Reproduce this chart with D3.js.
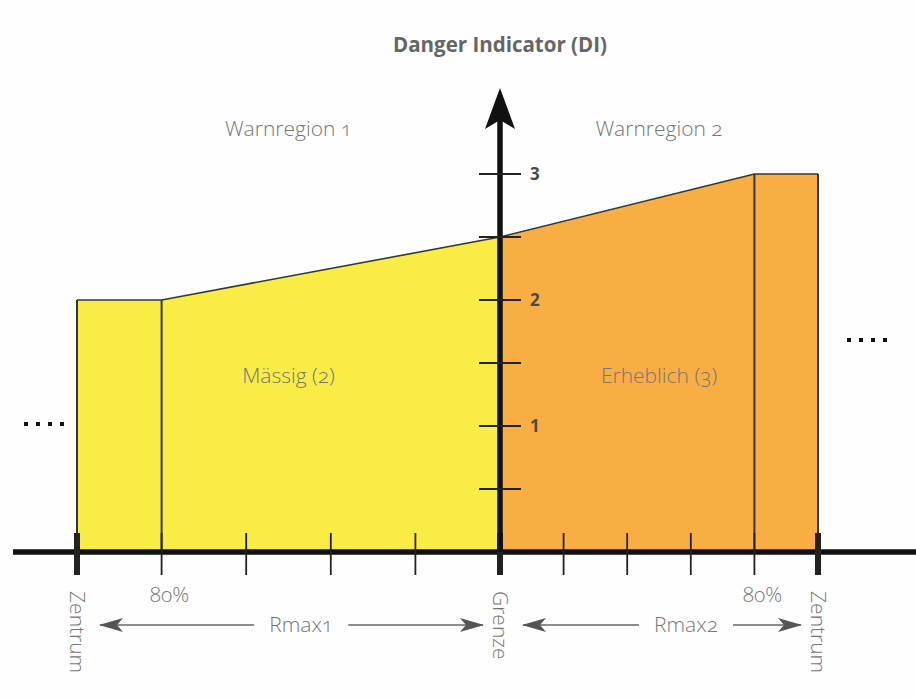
<!DOCTYPE html>
<html>
<head>
	<meta charset="utf-8">
	<title>Danger Indicator</title>
	<style>
		body { margin: 0; background: #fff; }
		svg text { font-family: "Open Sans", "DejaVu Sans", sans-serif; }
		.light { font-weight: 300; fill: #767676; font-feature-settings: "onum" 1; }
	</style>
</head>
<body>
<div id="chart"></div>
<script src="https://d3js.org/d3.v7.min.js"></script>
<script>

	// position: -1 = Zentrum 1, 0 = Grenze, 1 = Zentrum 2
	var region1 = [
		{pos: -1, di: 2},
		{pos: -0.8, di: 2},
		{pos: 0, di: 2.5}
	];
	var region2 = [
		{pos: 0, di: 2.5},
		{pos: 0.8, di: 3},
		{pos: 1, di: 3}
	];
	var dividers1 = [-1, -0.8];
	var dividers2 = [0.8, 1];
	var xTicks = [-1, -0.8, -0.6, -0.4, -0.2, 0, 0.2, 0.4, 0.6, 0.8, 1];
	var majorTicks = [-1, 0, 1];
	var yTicks = [0.5, 1, 1.5, 2, 2.5, 3];
	var yTickLabels = {1: '1', 2: '2', 3: '3'};
	var regionLabels = [
		{pos: -0.5, text: 'Warnregion 1'},
		{pos: 0.5, text: 'Warnregion 2'}
	];
	var levelLabels = [
		{pos: -0.5, di: 1.34, text: 'Mässig (2)'},
		{pos: 0.5, di: 1.34, text: 'Erheblich (3)'}
	];
	var rotatedLabels = [
		{pos: -1, text: 'Zentrum'},
		{pos: 0, text: 'Grenze'},
		{pos: 1, text: 'Zentrum'}
	];
	var percentLabels = [
		{pos: -0.8, text: '80%'},
		{pos: 0.8, text: '80%'}
	];
	var rmax = [
		{from: -1, to: 0, label: -0.47, text: 'Rmax1'},
		{from: 0, to: 1, label: 0.585, text: 'Rmax2'}
	];

	var width = 916;
	var height = 699;

	var x = d3.scaleLinear().domain([-1, 0, 1]).range([77, 500, 818]);
	var y = d3.scaleLinear().domain([0, 3]).range([552, 174]);

	var svg = d3.select('#chart')
		.append('svg')
		.attr('width', width)
		.attr('height', height);

	svg.append('rect')
		.attr('width', width)
		.attr('height', height)
		.attr('fill', '#fefefe');

	var defs = svg.append('defs');
	defs.append('marker')
		.attr('id', 'head')
		.attr('viewBox', '0 0 24 14')
		.attr('refX', 23)
		.attr('refY', 7)
		.attr('markerWidth', 24)
		.attr('markerHeight', 14)
		.attr('markerUnits', 'userSpaceOnUse')
		.attr('orient', 'auto-start-reverse')
		.append('path')
		.attr('d', 'M0,0 L24,7 L0,14 L6,7 Z')
		.attr('fill', '#555');

	var area = d3.area()
		.x(function(d){ return x(d.pos); })
		.y0(y(0))
		.y1(function(d){ return y(d.di); });

	var line = d3.line()
		.x(function(d){ return x(d.pos); })
		.y(function(d){ return y(d.di); });

	function drawRegion(data, dividers, color){
		svg.append('path')
			.datum(data)
			.attr('d', area)
			.attr('fill', color);

		svg.append('path')
			.datum(data)
			.attr('d', line)
			.attr('fill', 'none')
			.attr('stroke', '#2f3a35')
			.attr('stroke-width', 1.6);

		svg.selectAll(null)
			.data(dividers)
			.enter()
			.append('line')
			.attr('x1', function(d){ return x(d); })
			.attr('x2', function(d){ return x(d); })
			.attr('y1', function(d){
				var p = data.find(function(e){ return e.pos === d; });
				return y(p.di);
			})
			.attr('y2', y(0))
			.attr('stroke', '#2f3a35')
			.attr('stroke-width', 2);
	}

	drawRegion(region1, dividers1, '#f9ec45');
	drawRegion(region2, dividers2, '#f9ae44');

	// x axis line
	svg.append('line')
		.attr('x1', 13)
		.attr('x2', width)
		.attr('y1', y(0))
		.attr('y2', y(0))
		.attr('stroke', '#111')
		.attr('stroke-width', 5.5);

	svg.selectAll('.xtick')
		.data(xTicks)
		.enter()
		.append('line')
		.attr('class', 'xtick')
		.attr('x1', function(d){ return x(d); })
		.attr('x2', function(d){ return x(d); })
		.attr('y1', y(0) - 19)
		.attr('y2', y(0) + 23)
		.attr('stroke', '#222')
		.attr('stroke-width', function(d){ return majorTicks.indexOf(d) >= 0 ? 6 : 1.8; });

	// y axis with arrow
	svg.append('line')
		.attr('x1', x(0))
		.attr('x2', x(0))
		.attr('y1', y(0))
		.attr('y2', 118)
		.attr('stroke', '#111')
		.attr('stroke-width', 5.5);

	svg.append('path')
		.attr('d', 'M' + x(0) + ',88 L' + (x(0) + 15) + ',129 L' + x(0) + ',120 L' + (x(0) - 15) + ',129 Z')
		.attr('fill', '#111');

	svg.selectAll('.ytick')
		.data(yTicks)
		.enter()
		.append('line')
		.attr('class', 'ytick')
		.attr('x1', x(0) - 21)
		.attr('x2', x(0) + 21)
		.attr('y1', function(d){ return y(d); })
		.attr('y2', function(d){ return y(d); })
		.attr('stroke', '#222')
		.attr('stroke-width', 2);

	svg.selectAll('.ylabel')
		.data(yTicks.filter(function(d){ return yTickLabels[d]; }))
		.enter()
		.append('text')
		.attr('class', 'ylabel')
		.attr('x', x(0) + 30)
		.attr('y', function(d){ return y(d); })
		.attr('dy', '0.36em')
		.attr('font-size', 17)
		.attr('font-weight', 'bold')
		.attr('fill', '#4a4a4a')
		.text(function(d){ return yTickLabels[d]; });

	// title
	svg.append('text')
		.attr('x', x(0))
		.attr('y', 52)
		.attr('text-anchor', 'middle')
		.attr('font-size', 20.5)
		.attr('font-weight', 'bold')
		.attr('fill', '#666')
		.text('Danger Indicator (DI)');

	svg.selectAll('.region')
		.data(regionLabels)
		.enter()
		.append('text')
		.attr('class', 'light')
		.attr('x', function(d){ return x(d.pos); })
		.attr('y', 136)
		.attr('text-anchor', 'middle')
		.attr('font-size', 21)
		.text(function(d){ return d.text; });

	svg.selectAll('.level')
		.data(levelLabels)
		.enter()
		.append('text')
		.attr('class', 'light')
		.attr('x', function(d){ return x(d.pos); })
		.attr('y', function(d){ return y(d.di); })
		.attr('text-anchor', 'middle')
		.attr('font-size', 21)
		.text(function(d){ return d.text; });

	svg.selectAll('.pct')
		.data(percentLabels)
		.enter()
		.append('text')
		.attr('class', 'light')
		.attr('x', function(d){ return x(d.pos) + 8; })
		.attr('y', 602)
		.attr('text-anchor', 'middle')
		.attr('font-size', 21)
		.text(function(d){ return d.text; });

	svg.selectAll('.rot')
		.data(rotatedLabels)
		.enter()
		.append('text')
		.attr('class', 'light')
		.attr('transform', function(d){ return 'translate(' + x(d.pos) + ',591) rotate(90)'; })
		.attr('dy', '0.35em')
		.attr('font-size', 21)
		.text(function(d){ return d.text; });

	// Rmax arrows
	var arrowY = 625;
	rmax.forEach(function(r){
		var cx = x(r.label);
		svg.append('line')
			.attr('x1', x(r.from) + 23)
			.attr('x2', cx - 47)
			.attr('y1', arrowY)
			.attr('y2', arrowY)
			.attr('stroke', '#666')
			.attr('stroke-width', 1.5)
			.attr('marker-start', 'url(#head)');
		svg.append('line')
			.attr('x1', cx + 47)
			.attr('x2', x(r.to) - 17)
			.attr('y1', arrowY)
			.attr('y2', arrowY)
			.attr('stroke', '#666')
			.attr('stroke-width', 1.5)
			.attr('marker-end', 'url(#head)');
		svg.append('text')
			.attr('class', 'light')
			.attr('x', cx)
			.attr('y', arrowY)
			.attr('dy', '0.35em')
			.attr('text-anchor', 'middle')
			.attr('font-size', 21)
			.text(r.text);
	});

	// continuation dots
	var dotsLeft = [0, 1, 2, 3];
	svg.selectAll('.dotl')
		.data(dotsLeft)
		.enter()
		.append('rect')
		.attr('x', function(d){ return 24 + d * 12; })
		.attr('y', 422)
		.attr('width', 4)
		.attr('height', 4)
		.attr('fill', '#111');

	svg.selectAll('.dotr')
		.data(dotsLeft)
		.enter()
		.append('rect')
		.attr('x', function(d){ return 847 + d * 12; })
		.attr('y', 338)
		.attr('width', 4)
		.attr('height', 4)
		.attr('fill', '#111');

</script>
</body>
</html>
